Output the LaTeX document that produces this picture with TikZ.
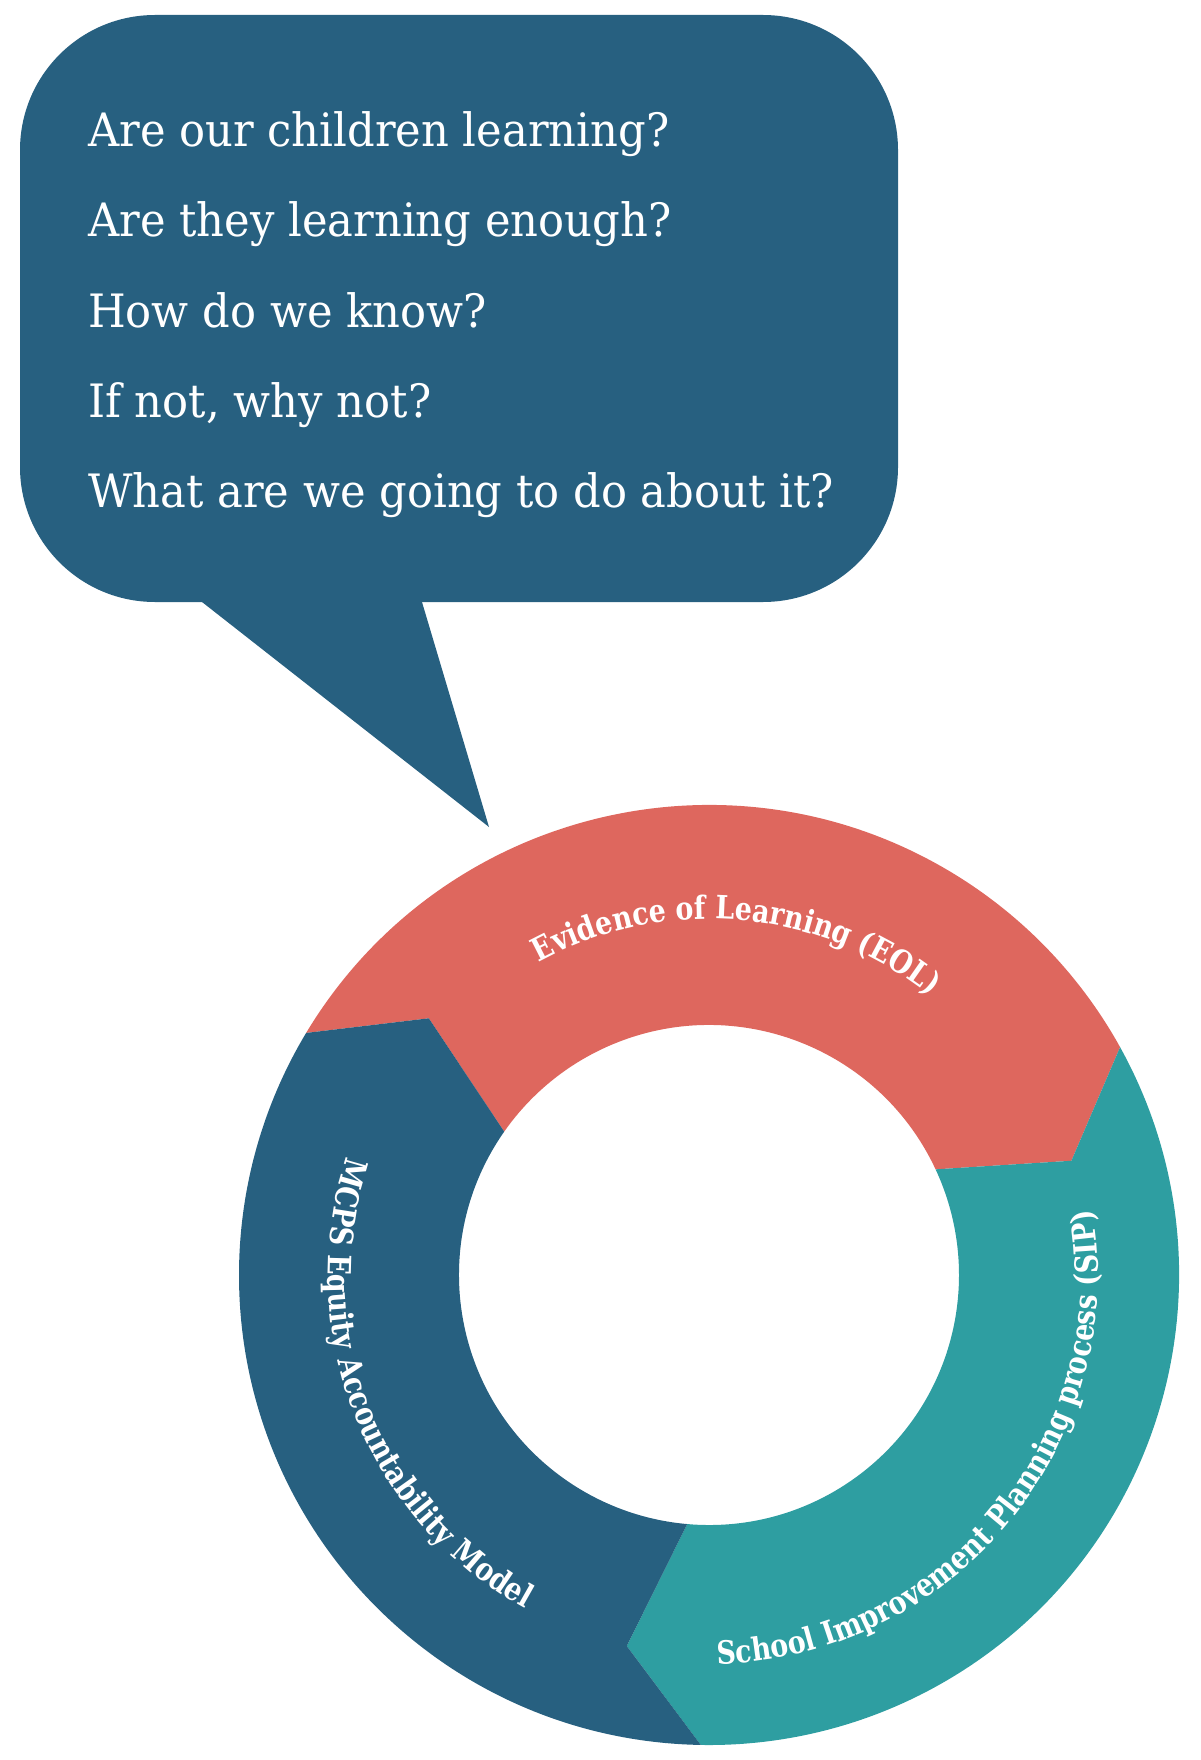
\documentclass[tikz,border=0pt]{standalone}
\usepackage{fontspec}
\setmainfont{DejaVu Serif}
\newfontfamily\questfont[FakeStretch=0.94]{DejaVu Serif}
\newfontfamily\ringfont[FakeStretch=0.84]{DejaVu Serif}
\usetikzlibrary{decorations.text}

\definecolor{eqblue}{RGB}{39,96,128}
\definecolor{eolred}{RGB}{222,103,94}
\definecolor{sipteal}{RGB}{46,158,161}

\begin{document}
\begin{tikzpicture}[x=1pt, y=1pt,
    every node/.style={inner sep=0pt, text=white, font=\questfont\fontsize{46}{46}\selectfont},
    ringtext/.style={decorate, decoration={text along path, text align=center, text color=white,
      text={|\ringfont\bfseries\fontsize{32}{32}\selectfont|#1}}}]

  \useasboundingbox (0,-1760) rectangle (1200,0);

  % speech bubble with its tail
  \fill[eqblue, rounded corners=135pt] (20,-15) rectangle (898,-602);
  \coordinate (tip) at (489,-827);
  \fill[eqblue] (186.7,-590) -- (tip) -- (418.4,-590) -- cycle;

  % questions, one per line
  \foreach \q [count=\i] in {Are our children learning?, Are they learning enough?,
      How do we know?, {If not, why not?}, What are we going to do about it?} {
    \node[anchor=base west] (q\i) at (88, -57-90*\i) {\q};
  }

  % ring of three arrows
  \begin{scope}[shift={(709,-1275)}]
    \foreach \b/\col in {0/eolred, -120/sipteal, 120/eqblue} {
      \fill[\col] (\b+149:470) arc[start angle=\b+149, end angle=\b+29, radius=470]
        -- (\b+17.5:380) -- (\b+25:250)
        arc[start angle=\b+25, end angle=\b+145, radius=250]
        -- (\b+137.5:380) -- cycle;
    }

    % labels along the ring
    \path[ringtext={Evidence of Learning (EOL)}]
      (130:356) arc[start angle=130, end angle=40, radius=356];
    \path[ringtext={MCPS Equity Accountability Model}]
      (150:381) arc[start angle=150, end angle=253, radius=381];
    \path[ringtext={School Improvement Planning process (SIP)}]
      (-98:389) arc[start angle=-98, end angle=19, radius=389];
  \end{scope}

\end{tikzpicture}
\end{document}
